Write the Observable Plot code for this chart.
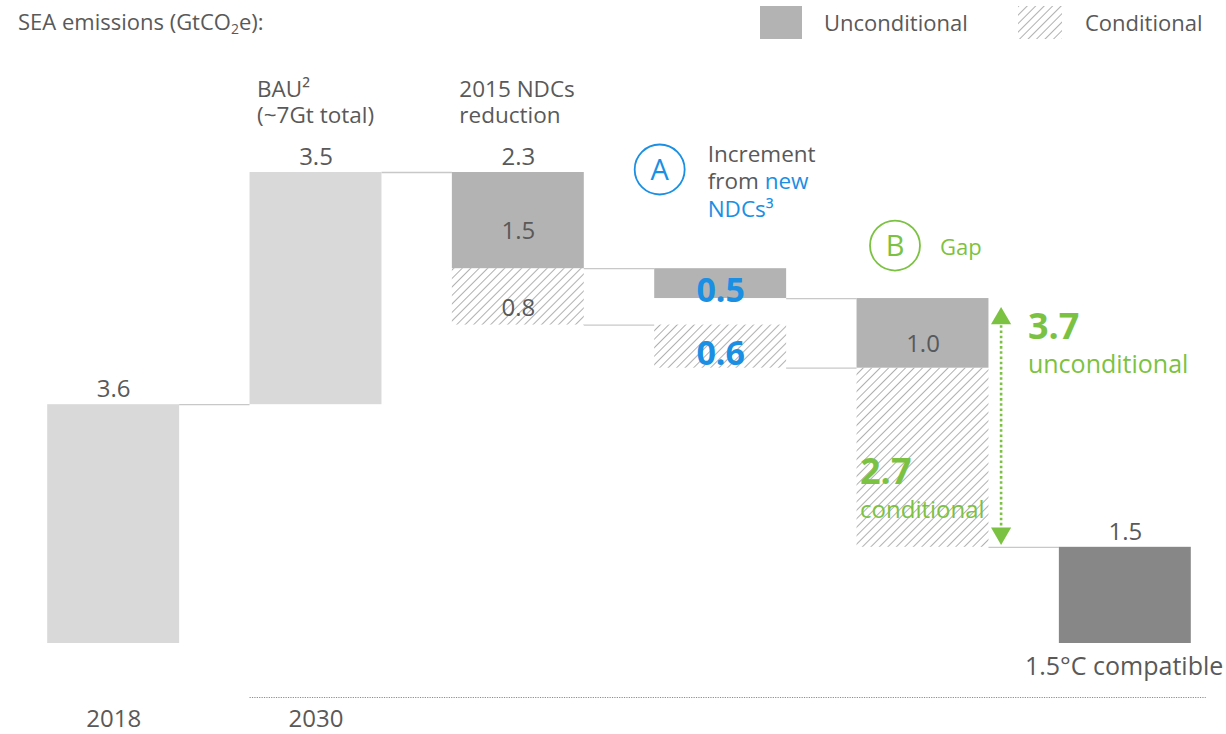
<!DOCTYPE html>
<html><head><meta charset="utf-8">
<script src="https://cdn.jsdelivr.net/npm/d3@7"></script>
<script src="https://cdn.jsdelivr.net/npm/@observablehq/plot@0.6"></script>
<style>
body{margin:0;background:#fff;font-family:"Open Sans",sans-serif;color:#595959;}
#wrap{position:relative;width:1226px;height:734px;overflow:hidden;}
#title{position:absolute;left:18px;top:6px;font-size:22px;line-height:30px;white-space:nowrap;}
#title sub{font-size:14px;vertical-align:-4px;line-height:0;}
.lg{position:absolute;font-size:22px;line-height:33px;top:6px;white-space:nowrap;}
#chart{position:absolute;left:0;top:0;}
</style></head><body>
<div id="wrap">
  <div id="chart"></div>
  <div id="title">SEA emissions (GtCO<sub>2</sub>e):</div>
  <div class="lg" style="left:760px;width:42px;height:33px;background:#b3b3b3"></div>
  <div class="lg" style="left:824px">Unconditional</div>
  <svg class="lg" style="left:1018px" width="44" height="33">
    <defs><pattern id="hatchL" width="6" height="6" patternUnits="userSpaceOnUse" patternTransform="rotate(45)">
      <line x1="0" y1="0" x2="0" y2="6" stroke="#b0b0b0" stroke-width="2"/></pattern></defs>
    <rect width="44" height="33" fill="url(#hatchL)"/>
  </svg>
  <div class="lg" style="left:1085px">Conditional</div>
</div>
<script>
// ---- data (GtCO2e) ----
const columns = ["2018", "BAU", "2015 NDCs", "New NDCs", "Gap", "1.5°C compatible"];
// stacked waterfall segments: column index, from-level, to-level, kind, inner label
const segColumn = [0, 1, 2, 2, 3, 3, 4, 4, 5];
const segFrom   = [0, 3.6, 5.65, 4.8, 5.2, 4.15, 4.15, 1.45, 0];
const segTo     = [3.6, 7.1, 7.1, 5.65, 5.65, 4.8, 5.2, 4.15, 1.45];
const segKind   = ["total", "total", "unconditional", "conditional", "unconditional", "conditional", "unconditional", "conditional", "target"];
const segLabel  = ["", "", "1.5", "0.8", "0.5", "0.6", "1.0", "", ""];
// value labels on top of columns
const topColumn = [0, 1, 2, 5];
const topLevel  = [3.6, 7.1, 7.1, 1.45];
const topLabel  = ["3.6", "3.5", "2.3", "1.5"];
// connector lines between columns (from column i to i+1 at a level)
const connColumn = [0, 1, 2, 2, 3, 3, 4];
const connLevel  = [3.6, 7.1, 5.65, 4.8, 5.2, 4.15, 1.45];
// column headers (two lines each)
const headerColumn = [1, 2];
const headerText = ["BAU²\n(~7Gt total)", "2015 NDCs\nreduction"];
const incrementText = "Increment\nfrom new\nNDCs³";
// gap annotation values
const gapUnconditional = "3.7";
const gapConditional = "2.7";
const yearLabels = ["2018", "2030"];

const segments = segColumn.map((c, i) => ({c, y1: segFrom[i], y2: segTo[i], kind: segKind[i], label: segLabel[i]}));
const tops = topColumn.map((c, i) => ({c, y: topLevel[i], label: topLabel[i]}));
const conns = connColumn.map((c, i) => ({c, y: connLevel[i]}));
const headers = headerColumn.map((c, i) => ({c, text: headerText[i]}));

const half = 0.326;            // half bar width, in column units
const gray = "#595959", blue = "#1a8fe3", green = "#7cc242";
const fs = 24, fa = 22.5;
const bauTop = 7.1;
const gapTop = segTo[6], gapBottom = segFrom[7];
const arrowX = 4 + half + 0.06;

const plot = Plot.plot({
  width: 1226, height: 734, margin: 0,
  x: {type: "linear", domain: [-0.5, 5.5], range: [12, 1226], axis: null},
  y: {domain: [0, 7.1], range: [643, 172], axis: null},
  style: {fontFamily: "Open Sans", background: "transparent", overflow: "visible"},
  marks: [
    Plot.ruleY(conns, {x1: d => d.c + half, x2: d => d.c + 1 - half, y: "y", stroke: "#c8c8c8", strokeWidth: 1.3}),
    Plot.rectY(segments.filter(d => d.kind === "total"), {x1: d => d.c - half, x2: d => d.c + half, y1: "y1", y2: "y2", fill: "#d9d9d9"}),
    Plot.rectY(segments.filter(d => d.kind === "unconditional"), {x1: d => d.c - half, x2: d => d.c + half, y1: "y1", y2: "y2", fill: "#b3b3b3"}),
    Plot.rectY(segments.filter(d => d.kind === "conditional"), {x1: d => d.c - half, x2: d => d.c + half, y1: "y1", y2: "y2", fill: "url(#hatch)"}),
    Plot.rectY(segments.filter(d => d.kind === "target"), {x1: d => d.c - half, x2: d => d.c + half, y1: "y1", y2: "y2", fill: "#878787"}),
    // top values
    Plot.text(tops, {x: "c", y: "y", text: "label", dy: -15, fontSize: fs, fill: gray}),
    // inner labels (gray)
    Plot.text(segments.filter(d => d.label && d.c !== 3), {x: "c", y: d => (d.y1 + d.y2) / 2, text: "label", dy: 11, fontSize: fs, fill: gray}),
    // inner labels new NDCs (blue bold)
    Plot.text(segments.filter(d => d.label && d.c === 3), {x: "c", y: d => (d.y1 + d.y2) / 2, text: "label", dy: 7, fontSize: 34, fontWeight: "bold", fill: blue}),
    // column headers
    Plot.text(headers, {x: d => d.c - half, y: bauTop, text: "text", dx: 7, dy: -71, lineHeight: 1.16, textAnchor: "start", fontSize: fa, fill: gray}),
    // bottom year labels
    Plot.text(yearLabels, {x: (d, i) => i, y: 0, text: d => d, dy: 76, fontSize: fs, fill: gray}),
    Plot.ruleY([0], {x1: 1 - half, x2: 5.4, dy: 54, stroke: "#8c8c8c", strokeWidth: 1.2, strokeDasharray: "1.2 1.2"}),
    Plot.text(["1.5°C compatible"], {x: 5 + half, y: 0, text: d => d, dx: 32, dy: 23, textAnchor: "end", fontSize: 25, fill: gray}),
    // A annotation
    Plot.dot([0], {x: 3, y: bauTop, dx: -61, dy: -3, r: 25, stroke: blue, strokeWidth: 1.8, fill: "white"}),
    Plot.text(["A"], {x: 3, y: bauTop, text: d => d, dx: -61, dy: -2, fontSize: 29, fill: blue}),
    Plot.text([incrementText], {x: 3, y: bauTop, text: d => d, dx: -13, dy: 8, lineHeight: 1.22, textAnchor: "start", fontSize: fa, fill: gray, className: "incr"}),
    // B annotation
    Plot.dot([0], {x: 4, y: gapTop, dx: -28, dy: -53, r: 25, stroke: green, strokeWidth: 1.8, fill: "white"}),
    Plot.text(["B"], {x: 4, y: gapTop, text: d => d, dx: -28, dy: -52, fontSize: 29, fill: green}),
    Plot.text(["Gap"], {x: 4, y: gapTop, text: d => d, dx: 17, dy: -51, textAnchor: "start", fontSize: 22, fill: green}),
    // gap arrow
    Plot.ruleX([0], {x: arrowX, y1: gapTop, y2: gapBottom, insetTop: 22, insetBottom: 16, stroke: green, strokeWidth: 2.6, strokeDasharray: "2.6 2.6"}),
    Plot.dot([0], {x: arrowX, y: gapTop, dy: 20, symbol: "triangle", r: 7.5, fill: green, stroke: "none"}),
    Plot.dot([0], {x: arrowX, y: gapBottom, dy: -14, symbol: "triangle", rotate: 180, r: 7.5, fill: green, stroke: "none"}),
    Plot.text([gapUnconditional], {x: 4 + half, y: gapTop, text: d => d, dx: 39, dy: 29, textAnchor: "start", fontSize: 36, fontWeight: "bold", fill: green}),
    Plot.text(["unconditional"], {x: 4 + half, y: gapTop, text: d => d, dx: 39, dy: 66, textAnchor: "start", fontSize: 25, fill: green}),
    Plot.text([gapConditional], {x: 4 - half, y: gapBottom, text: d => d, dx: 3, dy: -75, textAnchor: "start", fontSize: 36, fontWeight: "bold", fill: green}),
    Plot.text(["conditional"], {x: 4 - half, y: gapBottom, text: d => d, dx: 3, dy: -37, textAnchor: "start", fontSize: fs, fill: green})
  ]
});

// hatch pattern definition
const ns = "http://www.w3.org/2000/svg";
const defs = document.createElementNS(ns, "defs");
defs.innerHTML = '<pattern id="hatch" width="6" height="6" patternUnits="userSpaceOnUse" patternTransform="rotate(45)"><line x1="0" y1="0" x2="0" y2="6" stroke="#b0b0b0" stroke-width="2"/></pattern>';
plot.insertBefore(defs, plot.firstChild);
// colour "new" and "NDCs³" in blue within the increment annotation
plot.querySelectorAll(".incr tspan").forEach(t => {
  if (t.textContent === "from new") {
    t.textContent = "from ";
    const s = document.createElementNS(ns, "tspan");
    s.setAttribute("fill", blue);
    s.textContent = "new";
    t.appendChild(s);
  } else if (t.textContent.startsWith("NDCs")) {
    t.setAttribute("fill", blue);
  }
});
document.getElementById("chart").appendChild(plot);
</script>
</body></html>
